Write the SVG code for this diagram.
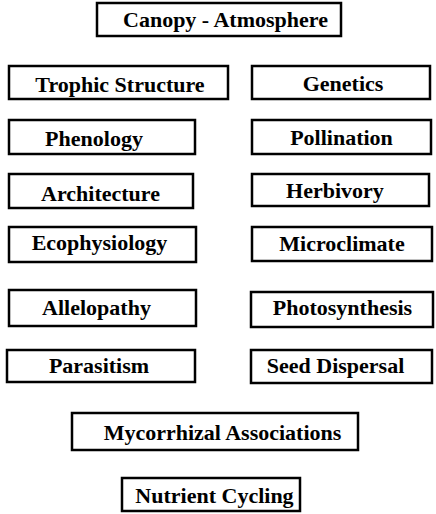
<svg xmlns="http://www.w3.org/2000/svg" width="436" height="514" viewBox="0 0 436 514">
<style>
rect.b{fill:#fff;stroke:#000;stroke-width:2.5}
text{font-family:"Liberation Serif","Times New Roman",serif;font-weight:bold;font-size:22px;fill:#000;text-anchor:middle}
</style>
<rect width="436" height="514" fill="#fff"/>
<g id="connectors"/>
<g id="canopy"><rect class="b" x="97" y="3" width="244" height="33"/><text x="225.5" y="27">Canopy - Atmosphere</text></g>
<g id="trophic"><rect class="b" x="9" y="66" width="219" height="33"/><text x="120" y="92">Trophic Structure</text></g>
<g id="genetics"><rect class="b" x="252" y="66" width="178" height="33"/><text x="343" y="91">Genetics</text></g>
<g id="phenology"><rect class="b" x="9" y="120" width="186" height="34"/><text x="94" y="146">Phenology</text></g>
<g id="pollination"><rect class="b" x="252" y="120" width="179" height="34"/><text x="341.5" y="145">Pollination</text></g>
<g id="architecture"><rect class="b" x="9" y="174" width="184" height="34"/><text x="100.5" y="201">Architecture</text></g>
<g id="herbivory"><rect class="b" x="252" y="174" width="177" height="32"/><text x="335" y="198">Herbivory</text></g>
<g id="ecophysiology"><rect class="b" x="9" y="227" width="187" height="35"/><text x="99.5" y="250">Ecophysiology</text></g>
<g id="microclimate"><rect class="b" x="252" y="227" width="180" height="34"/><text x="342" y="251">Microclimate</text></g>
<g id="allelopathy"><rect class="b" x="9" y="290" width="187" height="36"/><text x="96.5" y="315">Allelopathy</text></g>
<g id="photosynthesis"><rect class="b" x="251" y="292" width="182" height="35"/><text x="342.5" y="315">Photosynthesis</text></g>
<g id="parasitism"><rect class="b" x="7" y="350" width="188" height="32"/><text x="99" y="373">Parasitism</text></g>
<g id="seed-dispersal"><rect class="b" x="251" y="350" width="181" height="33"/><text x="335.5" y="373">Seed Dispersal</text></g>
<g id="mycorrhizal"><rect class="b" x="72" y="413" width="286" height="37"/><text x="222.5" y="440">Mycorrhizal Associations</text></g>
<g id="nutrient"><rect class="b" x="122" y="478" width="178" height="33"/><text x="214.5" y="503">Nutrient Cycling</text></g>
</svg>
